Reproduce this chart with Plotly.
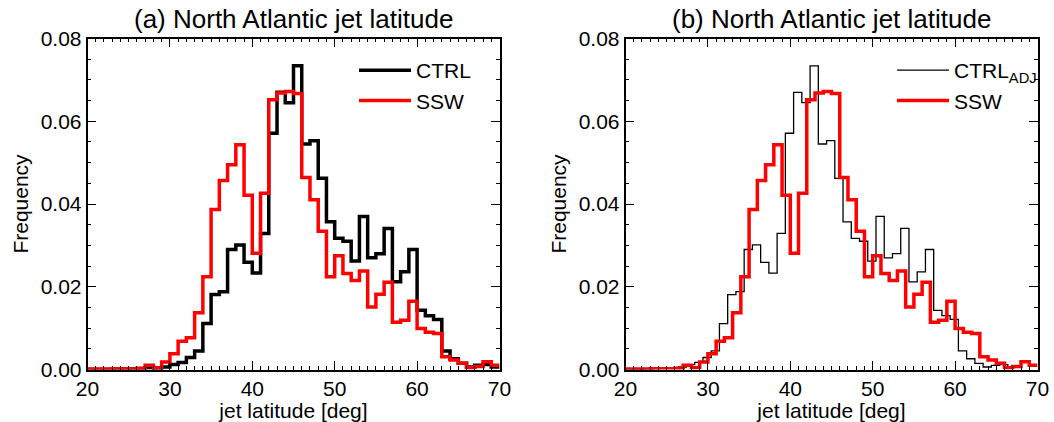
import plotly.graph_objects as go

# ---------------- data ----------------
bin_left = list(range(20, 70))          # 1-degree latitude bins, left edges
adj_shift = -2.6                         # CTRL_ADJ = CTRL shifted in latitude

ctrl_freq = [0.0000, 0.0000, 0.0000, 0.0000, 0.0000, 0.0001, 0.0002, 0.0004, 0.0003, 0.0006,
             0.0012, 0.0017, 0.0029, 0.0045, 0.0111, 0.0181, 0.0188, 0.0290, 0.0301, 0.0259,
             0.0233, 0.0329, 0.0571, 0.0670, 0.0645, 0.0734, 0.0545, 0.0553, 0.0462, 0.0357,
             0.0317, 0.0310, 0.0262, 0.0370, 0.0270, 0.0280, 0.0341, 0.0212, 0.0236, 0.0290,
             0.0143, 0.0130, 0.0121, 0.0045, 0.0026, 0.0015, 0.0006, 0.0010, 0.0012, 0.0006]

ssw_freq = [0.0001, 0.0001, 0.0001, 0.0002, 0.0002, 0.0001, 0.0003, 0.0010, 0.0004, 0.0018,
            0.0038, 0.0068, 0.0077, 0.0137, 0.0224, 0.0387, 0.0457, 0.0495, 0.0543, 0.0421,
            0.0281, 0.0426, 0.0652, 0.0668, 0.0672, 0.0667, 0.0464, 0.0410, 0.0334, 0.0224,
            0.0275, 0.0232, 0.0215, 0.0238, 0.0151, 0.0182, 0.0211, 0.0114, 0.0119, 0.0165,
            0.0099, 0.0090, 0.0087, 0.0031, 0.0023, 0.0015, 0.0004, 0.0007, 0.0019, 0.0010]

x_ticks = [20, 30, 40, 50, 60, 70]
y_ticks = [0.00, 0.02, 0.04, 0.06, 0.08]
y_ticklabels = ["0.00", "0.02", "0.04", "0.06", "0.08"]
titles = ["(a) North Atlantic jet latitude", "(b) North Atlantic jet latitude"]


def steps(left, vals):
    xs = list(left) + [left[-1] + 1]
    ys = list(vals) + [vals[-1]]
    return xs, ys


adj_left = [b + adj_shift for b in bin_left]

FONT = "Liberation Sans, Arial, Helvetica, sans-serif"
fig = go.Figure()

x, y = steps(bin_left, ctrl_freq)
fig.add_trace(go.Scatter(x=x, y=y, mode="lines", line=dict(color="black", width=3.5, shape="hv"),
                         name="CTRL", xaxis="x", yaxis="y", legend="legend"))
x, y = steps(bin_left, ssw_freq)
fig.add_trace(go.Scatter(x=x, y=y, mode="lines", line=dict(color="#ff0000", width=3.5, shape="hv"),
                         name="SSW", xaxis="x", yaxis="y", legend="legend"))
x, y = steps(adj_left, ctrl_freq)
fig.add_trace(go.Scatter(x=x, y=y, mode="lines", line=dict(color="black", width=1.3, shape="hv"),
                         name="CTRL<sub>ADJ</sub>", xaxis="x2", yaxis="y2", legend="legend2"))
x, y = steps(bin_left, ssw_freq)
fig.add_trace(go.Scatter(x=x, y=y, mode="lines", line=dict(color="#ff0000", width=3.5, shape="hv"),
                         name="SSW", xaxis="x2", yaxis="y2", legend="legend2"))

W, H = 1054, 422
doms_x = [[87.5 / W, 499.5 / W], [625.5 / W, 1037.5 / W]]
dom_y = [(H - 369.5) / H, (H - 38.5) / H]
FS = 21

common_x = dict(range=[20, 70], tickvals=x_ticks, ticks="inside", ticklen=9, tickwidth=1.2,
                tickcolor="black", showline=True, linecolor="black", linewidth=1.5, mirror="ticks",
                showgrid=False, zeroline=False, automargin=False,
                minor=dict(ticks="inside", dtick=1, ticklen=4, tickwidth=1, tickcolor="black", showgrid=False),
                tickfont=dict(size=FS, color="black", family=FONT),
                title=dict(text="jet latitude [deg]", font=dict(size=FS, color="black", family=FONT), standoff=0))
common_y = dict(range=[0, 0.08], tickvals=y_ticks, ticktext=y_ticklabels, ticks="inside", ticklen=9,
                tickwidth=1.2, tickcolor="black", showline=True, linecolor="black", linewidth=1.5,
                mirror="ticks", showgrid=False, zeroline=False, automargin=False,
                minor=dict(ticks="inside", dtick=0.005, ticklen=4, tickwidth=1, tickcolor="black", showgrid=False),
                tickfont=dict(size=FS, color="black", family=FONT),
                title=dict(text="Frequency", font=dict(size=FS, color="black", family=FONT), standoff=6))

fig.update_layout(
    width=W, height=H, margin=dict(l=0, r=0, t=0, b=0, autoexpand=False),
    paper_bgcolor="white", plot_bgcolor="white",
    font=dict(family=FONT, color="black"),
    xaxis=dict(domain=doms_x[0], anchor="y", **common_x),
    yaxis=dict(domain=dom_y, anchor="x", **common_y),
    xaxis2=dict(domain=doms_x[1], anchor="y2", **common_x),
    yaxis2=dict(domain=dom_y, anchor="x2", **common_y),
    legend=dict(x=354 / W, y=1 - 50 / H, xanchor="left", yanchor="top", bgcolor="rgba(0,0,0,0)",
                font=dict(size=FS, color="black", family=FONT), tracegroupgap=0, itemwidth=52),
    legend2=dict(x=892 / W, y=1 - 50 / H, xanchor="left", yanchor="top", bgcolor="rgba(0,0,0,0)",
                 font=dict(size=FS, color="black", family=FONT), tracegroupgap=0, itemwidth=52),
    showlegend=True,
)

for i, t in enumerate(titles):
    fig.add_annotation(text=t, xref="paper", yref="paper", x=sum(doms_x[i]) / 2, y=1 - 19 / H,
                       xanchor="center", yanchor="middle", showarrow=False,
                       font=dict(size=26, color="black", family=FONT))

fig.write_html("out.html")
